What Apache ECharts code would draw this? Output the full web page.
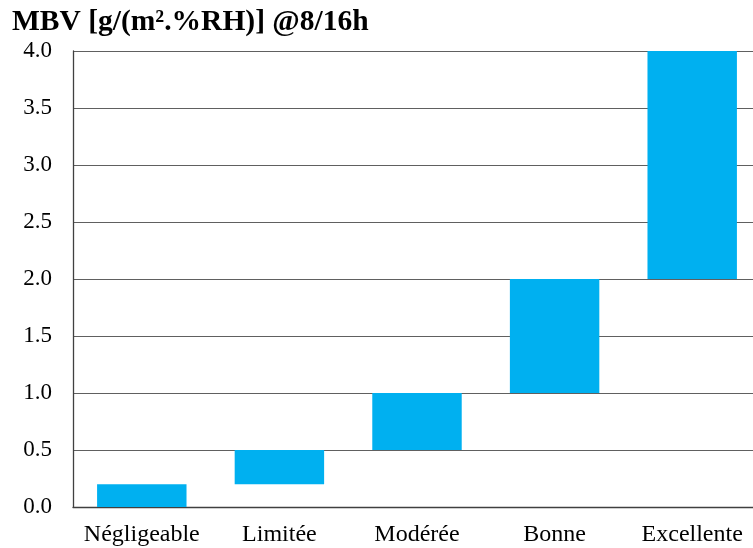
<!DOCTYPE html>
<html>
<head>
<meta charset="utf-8">
<script src="https://cdn.jsdelivr.net/npm/echarts@6/dist/echarts.min.js"></script>
<style>
html, body { margin: 0; padding: 0; background: #fff; overflow: hidden; }
/* the plot area runs a few pixels past the right edge of the window */
#chart { width: 761px; height: 548px; }
</style>
</head>
<body>
<div id="chart"></div>
<script>
// MBV classes and their ranges [g/(m².%RH)]
const categories = ['Négligeable', 'Limitée', 'Modérée', 'Bonne', 'Excellente'];
const lowerBounds = [0, 0.2, 0.5, 1.0, 2.0];
const upperBounds = [0.2, 0.5, 1.0, 2.0, 4.0];
const yTicks = { min: 0, max: 4, interval: 0.5 };

const spans = upperBounds.map((u, i) => +(u - lowerBounds[i]).toFixed(3));
const serif = '"Liberation Serif", "Times New Roman", serif';

const chart = echarts.init(document.getElementById('chart'));
chart.setOption({
  animation: false,
  title: {
    text: 'MBV [g/(m².%RH)] @8/16h',
    left: 7,
    top: 2,
    textStyle: { fontFamily: serif, fontWeight: 'bold', fontSize: 29.5, color: '#000' }
  },
  grid: { left: 73, right: 0, top: 51, bottom: 41, containLabel: false },
  xAxis: {
    type: 'category',
    data: categories,
    axisLine: { lineStyle: { color: '#404040', width: 1.3 } },
    axisTick: { show: false },
    axisLabel: { fontFamily: serif, fontSize: 24, color: '#000', margin: 16, interval: 0 }
  },
  yAxis: {
    type: 'value',
    min: yTicks.min,
    max: yTicks.max,
    interval: yTicks.interval,
    axisLine: { show: true, lineStyle: { color: '#404040', width: 1.3 } },
    axisTick: { show: false },
    splitLine: { lineStyle: { color: '#606060', width: 1.2 } },
    axisLabel: {
      fontFamily: serif, fontSize: 23, color: '#000', margin: 21,
      formatter: v => v.toFixed(1)
    }
  },
  series: [
    {
      type: 'bar',
      stack: 'range',
      data: lowerBounds,
      itemStyle: { color: 'transparent' },
      barCategoryGap: '35%',
      silent: true
    },
    {
      type: 'bar',
      stack: 'range',
      data: spans,
      itemStyle: { color: '#00B0F0' },
      barCategoryGap: '35%'
    }
  ]
});
</script>
</body>
</html>
